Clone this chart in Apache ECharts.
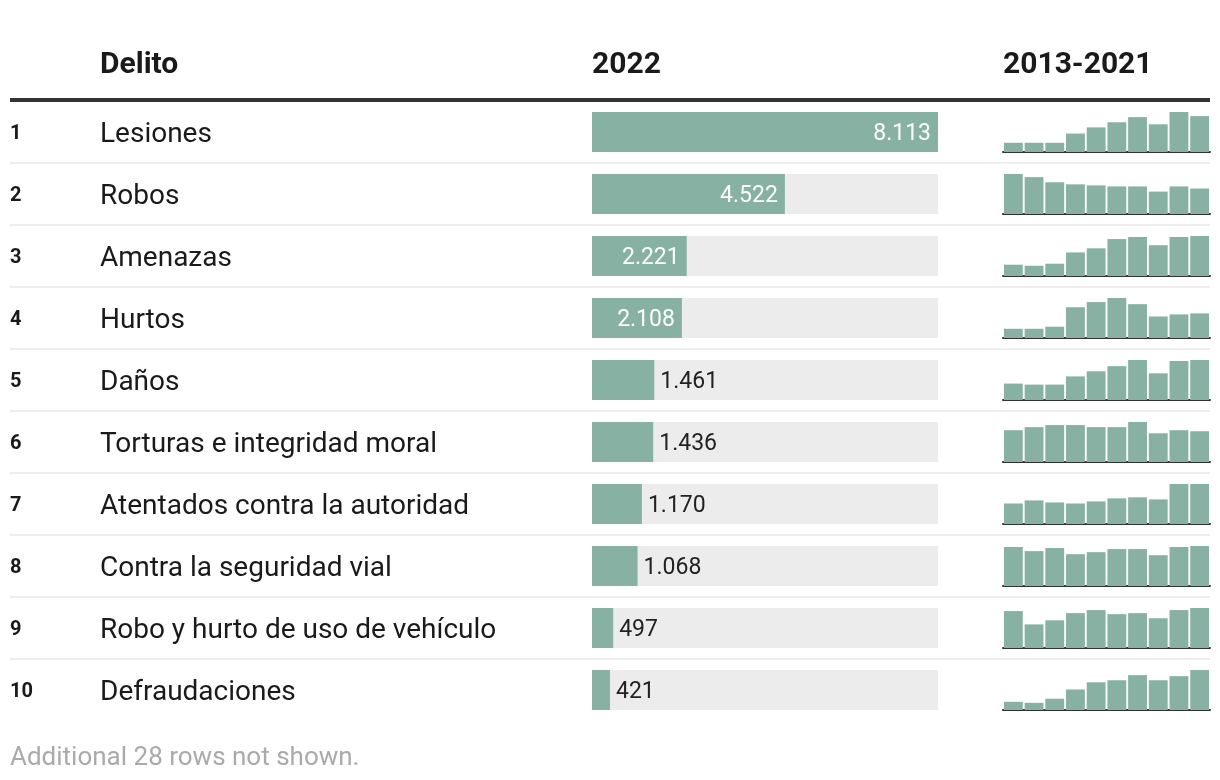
<!DOCTYPE html>
<html><head><meta charset="utf-8">
<script src="https://cdn.jsdelivr.net/npm/echarts@6/dist/echarts.min.js"></script>
<style>html,body{margin:0;padding:0;background:#fff}#c{width:1220px;height:780px}</style>
</head><body><div id="c"></div>
<script>
const ranks = [1,2,3,4,5,6,7,8,9,10];
const crimes = ["Lesiones","Robos","Amenazas","Hurtos","Daños","Torturas e integridad moral","Atentados contra la autoridad","Contra la seguridad vial","Robo y hurto de uso de vehículo","Defraudaciones"];
const values2022 = [8113,4522,2221,2108,1461,1436,1170,1068,497,421];
const years = ["2013","2014","2015","2016","2017","2018","2019","2020","2021","2022"];
const spark1 = [27,27,27,54,72,87,102,81,117,105];
const spark2 = [116,107,92,86,83,80,80,65,80,74];
const spark3 = [33,30,36,69,81,108,114,90,114,117];
const spark4 = [27,27,33,90,105,117,99,63,69,72];
const spark5 = [48,45,45,69,84,99,117,78,114,117];
const spark6 = [93,102,108,108,102,102,117,84,93,90];
const spark7 = [60,69,63,60,66,75,78,72,117,117];
const spark8 = [114,102,111,93,99,108,108,90,114,117];
const spark9 = [108,69,81,102,111,99,102,87,111,117];
const spark10 = [24,21,33,60,81,87,102,87,99,117];
const sparks = [spark1,spark2,spark3,spark4,spark5,spark6,spark7,spark8,spark9,spark10];
const headers = ["Delito","2022","2013-2021"];
const footer = "Additional 28 rows not shown.";

const FONT = "Roboto, 'Noto Sans', sans-serif";
const GREEN = "#87b1a2";
const maxVal = Math.max(...values2022);
const fmt = v => String(v).replace(/\B(?=(\d{3})+(?!\d))/g, ".");

const grids = [], xAxes = [], yAxes = [], series = [], graphics = [];
const rowH = 62, firstC = 132;
const txt = (x, y, text, font, fill) => ({type:'text', x:x, y:y,
  style:{text:text, font:font, fill:fill, textVerticalAlign:'middle', verticalAlign:'middle'}});

graphics.push(txt(100, 65, headers[0], "bold 30px "+FONT, "#1a1a1a"));
graphics.push(txt(592, 65, headers[1], "bold 30px "+FONT, "#1a1a1a"));
graphics.push(txt(1003, 65, headers[2], "bold 30px "+FONT, "#1a1a1a"));
graphics.push({type:'rect', shape:{x:10,y:98,width:1200,height:4}, style:{fill:"#333"}});

crimes.forEach((name, i) => {
  const c = firstC + rowH*i;
  graphics.push(txt(10, c+2, String(ranks[i]), "bold 20px "+FONT, "#1a1a1a"));
  graphics.push(txt(100, c+3, name, "28px "+FONT, "#1a1a1a"));
  if (i < crimes.length-1) graphics.push({type:'rect', shape:{x:10,y:c+30,width:1200,height:2}, style:{fill:"#eeeeee"}});

  const g1 = grids.length;
  grids.push({left:592, width:346, top:c-20, height:40, containLabel:false});
  xAxes.push({gridIndex:g1, type:'value', min:0, max:maxVal, show:false});
  yAxes.push({gridIndex:g1, type:'category', data:[name], show:false});
  const inside = values2022[i]/maxVal > 0.22;
  series.push({type:'bar', xAxisIndex:g1, yAxisIndex:g1, data:[values2022[i]], barWidth:40,
    showBackground:true, backgroundStyle:{color:"#ececec"}, itemStyle:{color:GREEN}, silent:true,
    label:{show:true, position: inside ? 'insideRight' : 'right', distance: inside ? 7 : 6, offset:[0,2],
      formatter: p => fmt(p.value), color: inside ? "#fff" : "#222", fontSize:23, fontFamily:FONT}});

  const g2 = grids.length;
  grids.push({left:1003, width:207, top:c-20, height:40, containLabel:false});
  xAxes.push({gridIndex:g2, type:'category', data:years, axisLine:{show:true, lineStyle:{color:"#333", width:2}},
    axisTick:{show:false}, axisLabel:{show:false}});
  yAxes.push({gridIndex:g2, type:'value', min:0, max:'dataMax', show:false});
  series.push({type:'bar', xAxisIndex:g2, yAxisIndex:g2, data:sparks[i], barCategoryGap:'9%',
    itemStyle:{color:GREEN}, silent:true});
});

graphics.push(txt(10, 758, footer, "26px "+FONT, "#aaaaaa"));

const chart = echarts.init(document.getElementById('c'), null, {renderer:'canvas'});
chart.setOption({animation:false, grid:grids, xAxis:xAxes, yAxis:yAxes, series:series, graphic:graphics});
</script></body></html>
